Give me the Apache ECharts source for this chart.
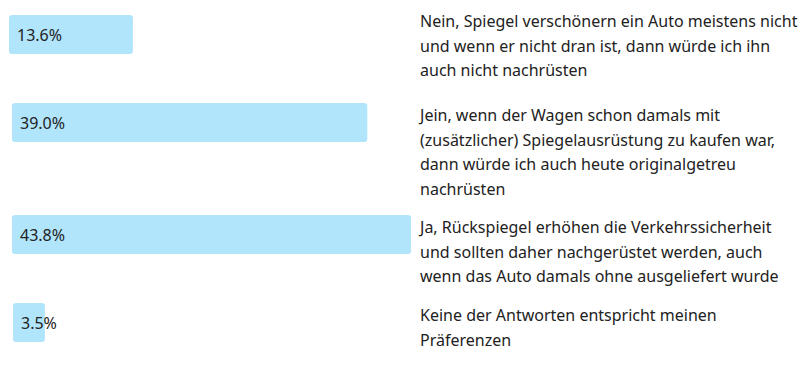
<!DOCTYPE html>
<html>
<head>
<meta charset="utf-8">
<script src="https://cdn.jsdelivr.net/npm/echarts@6/dist/echarts.min.js"></script>
<style>html,body{margin:0;padding:0;background:#fff}#c{width:800px;height:366px}</style>
</head>
<body>
<div id="c"></div>
<script>
var categories = [
  "Nein, Spiegel verschönern ein Auto meistens nicht\nund wenn er nicht dran ist, dann würde ich ihn\nauch nicht nachrüsten",
  "Jein, wenn der Wagen schon damals mit\n(zusätzlicher) Spiegelausrüstung zu kaufen war,\ndann würde ich auch heute originalgetreu\nnachrüsten",
  "Ja, Rückspiegel erhöhen die Verkehrssicherheit\nund sollten daher nachgerüstet werden, auch\nwenn das Auto damals ohne ausgeliefert wurde",
  "Keine der Antworten entspricht meinen\nPräferenzen"
];
var values = [13.6, 39.0, 43.8, 3.5];

var FONT = '"Noto Sans", "Liberation Sans", Arial, sans-serif';
var gridTops = [15, 103, 215, 303];
var gridLefts = [9, 12, 12, 13];
var textTopShift = [-6, 0, 0, 0];
var barH = 39;
var pxPerUnit = 9.11;
var maxV = Math.max.apply(null, values);
var textLeft = 12 + maxV * pxPerUnit + 9;

var chart = echarts.init(document.getElementById('c'), null, {renderer: 'svg'});
var grids = [], xAxes = [], yAxes = [], series = [];
values.forEach(function (v, i) {
  grids.push({left: gridLefts[i], top: gridTops[i], width: maxV * pxPerUnit, height: barH, containLabel: false});
  xAxes.push({type: 'value', gridIndex: i, min: 0, max: maxV, show: false});
  yAxes.push({type: 'category', gridIndex: i, data: [categories[i]], show: false});
  series.push({
    type: 'bar', xAxisIndex: i, yAxisIndex: i, data: [v], barWidth: '100%',
    itemStyle: {color: '#b1e5fc', borderRadius: 3},
    label: {show: true, position: 'insideLeft', distance: 8, formatter: function (p) { return p.value.toFixed(1) + '%'; },
      color: '#222', fontSize: 16, fontFamily: FONT},
    silent: true
  });
});
chart.setOption({animation: false, grid: grids, xAxis: xAxes, yAxis: yAxes, series: series});

var graphics = [];
values.forEach(function (v, i) {
  graphics.push({
    type: 'text', left: textLeft, top: gridTops[i] + textTopShift[i],
    style: {text: categories[i], fill: '#222', fontSize: 16, lineHeight: 24.5, fontFamily: FONT}
  });
});
chart.setOption({graphic: graphics});
</script>
</body>
</html>
